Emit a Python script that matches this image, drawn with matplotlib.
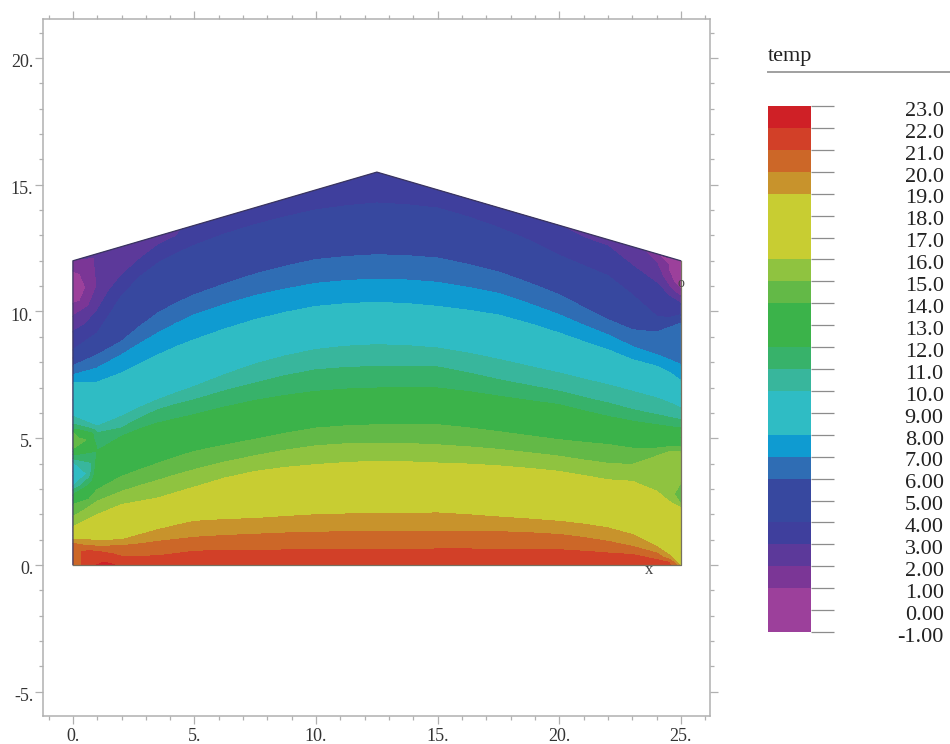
import matplotlib
matplotlib.use('Agg')
import matplotlib.pyplot as plt
import numpy as np
from matplotlib.patches import Polygon
from matplotlib.ticker import MultipleLocator
from matplotlib.transforms import ScaledTranslation
from matplotlib.tri import Triangulation

nan = np.nan

col_x = [0, 1, 2, 2.75, 3.5, 4.25, 5, 6.25, 7.5, 8.75, 10, 11.25, 12.5, 13.75, 15, 16.25, 17.5, 18.75, 20, 21, 22, 23, 24, 24.5, 25]

# height of each isotherm in those columns
iso_21 = [nan, .53, .33, .33, .35, .44, .53, .56, .57, .58, .59, .59, .59, .6, .62, .62, .6, .6, .59, .53, .46, .4, .2, .09, nan]
iso_20 = [.85, .72, .75, .82, .92, 1.0, 1.08, 1.15, 1.2, 1.25, 1.28, 1.3, 1.31, 1.31, 1.31, 1.31, 1.3, 1.26, 1.19, 1.07, .92, .72, .46, .23, nan]
iso_19 = [1.01, .96, .98, 1.18, 1.38, 1.55, 1.71, 1.78, 1.82, 1.9, 1.97, 2.0, 2.01, 2.03, 2.04, 1.97, 1.88, 1.8, 1.71, 1.6, 1.45, 1.19, .72, .4, nan]
iso_16 = [1.49, 1.97, 2.37, 2.5, 2.63, 2.85, 3.06, 3.42, 3.68, 3.84, 3.95, 4.03, 4.08, 4.06, 4.01, 3.97, 3.9, 3.8, 3.68, 3.52, 3.35, 3.29, 2.9, 2.5, 2.24]
iso_15 = [1.9, 2.5, 2.89, 3.12, 3.33, 3.55, 3.75, 4.05, 4.3, 4.52, 4.69, 4.77, 4.8, 4.78, 4.73, 4.65, 4.55, 4.42, 4.28, 4.13, 4.0, 3.95, 4.28, 4.45, 4.45]
iso_14 = [2.37, 2.96, 3.48, 3.75, 4.0, 4.25, 4.47, 4.72, 4.95, 5.19, 5.39, 5.48, 5.52, 5.54, 5.52, 5.4, 5.25, 5.09, 4.93, 4.83, 4.74, 4.6, 4.6, 4.65, 4.67]
iso_12 = [nan, 4.5, 5.06, 5.35, 5.59, 5.76, 5.92, 6.22, 6.48, 6.68, 6.84, 6.93, 6.97, 6.99, 6.97, 6.83, 6.65, 6.48, 6.31, 6.07, 5.85, 5.66, 5.52, 5.45, 5.39]
iso_11 = [nan, 5.2, 5.39, 5.78, 6.11, 6.33, 6.51, 6.86, 7.17, 7.46, 7.69, 7.78, 7.82, 7.83, 7.8, 7.57, 7.3, 7.07, 6.84, 6.6, 6.38, 6.12, 5.92, 5.82, 5.72]
iso_10 = [nan, 5.46, 5.85, 6.2, 6.51, 6.78, 7.03, 7.5, 7.92, 8.24, 8.49, 8.62, 8.68, 8.64, 8.55, 8.35, 8.1, 7.83, 7.56, 7.32, 7.1, 6.84, 6.58, 6.4, 6.18]
iso_8 = [7.17, 7.2, 7.56, 7.92, 8.28, 8.6, 8.88, 9.3, 9.67, 9.96, 10.19, 10.3, 10.35, 10.3, 10.19, 10.04, 9.85, 9.52, 9.14, 8.8, 8.48, 8.09, 7.83, 7.6, 7.27]
iso_7 = [7.49, 7.76, 8.28, 8.72, 9.14, 9.52, 9.86, 10.27, 10.62, 10.88, 11.1, 11.21, 11.27, 11.23, 11.14, 10.94, 10.7, 10.3, 9.86, 9.45, 9.07, 8.61, 8.29, 8.1, 7.89]
iso_6 = [7.85, 8.28, 8.81, 9.4, 9.93, 10.32, 10.65, 11.08, 11.47, 11.78, 12.04, 12.16, 12.23, 12.19, 12.1, 11.85, 11.55, 11.12, 10.65, 10.15, 9.67, 9.27, 9.18, 9.35, 9.53]
iso_4 = [8.48, 9.14, 10.6, 11.35, 11.9, 12.28, 12.6, 13.05, 13.42, 13.73, 14.0, 14.16, 14.27, 14.2, 14.07, 13.72, 13.3, 12.8, 12.2, 11.8, 11.4, 10.65, 9.8, 9.75, 9.86]
iso_3 = [9.2, 10.0, 11.4, 12.05, 12.6, 12.95, nan, nan, nan, nan, nan, nan, nan, nan, nan, nan, nan, nan, 13.2, 12.9, 12.56, 11.8, 11.1, 10.6, 10.3]
iso_2 = [9.8, 11.0, nan, nan, nan, nan, nan, nan, nan, nan, nan, nan, nan, nan, nan, nan, nan, nan, nan, nan, nan, nan, 11.9, 11.0, 10.6]

# temperature along the bottom edge
bottom_x = [0, .35, 1, 1.3, 1.7, 2, 3.5, 5, 7.5, 10, 12.5, 15, 17.5, 20, 22, 23, 24, 24.5, 24.75, 24.9, 25]
bottom_t = [20.4, 21, 22, 22.3, 22, 21.6, 21.6, 21.7, 21.7, 21.8, 21.8, 21.8, 21.8, 21.7, 21.5, 21.4, 21.2, 21.2, 20.4, 19.3, 18.5]

# temperature along the roof
roof_x = [0, 1, 2, 3.5, 5, 7.5, 10, 12.5, 15, 17.5, 20, 22, 23.4, 24, 25]
roof_y = [12, 12.28, 12.56, 12.98, 13.4, 14.1, 14.8, 15.5, 14.8, 14.1, 13.4, 12.84, 12.45, 12.28, 12]
roof_t = [1.9, 2.2, 2.6, 2.8, 3.1, 3.3, 3.4, 3.3, 3.3, 3.2, 3.0, 2.7, 2.0, 1.0, 0.5]

# local spots on the side walls and in the lower left corner
spot_x = [0, 0, 0, 0, 0, 0, 0, 0, 0, 0, 0, 0, 0, .3, .6, .75, .9, .3, .5, .75,
          .35, .35, .6, 1.3, 0, .55, 0, .2, 0, .3, .3, .3,
          25, 24.5, 25, 25, 24.7, 25, 25, 24.7, 24.7]
spot_y = [2.75, 2.95, 3.1, 3.6, 4.1, 4.2, 4.35, 4.6, 4.93, 5.2, 5.3, 5.55, 5.85, 3.6, 3.6, 3.6, 3.6, 4.93, 4.93, 4.93,
          .25, .5, .55, .1, 10.3, 10.95, 11.6, 10.97, 10.97, 10.4, 11.5, 10.97,
          10.85, 11.6, 2.4, 3.25, 2.8, 2.8, 3.8, 11.15, 11.8]
spot_t = [12, 11, 10, 8.8, 10, 11, 12, 14, 14.6, 14, 12, 11, 10, 9.3, 10, 11, 12, 14.4, 14, 12.5,
          21, 21, 21, 22, 1, 1, 1, 0.5, 0.5, 1, 1, 0.6,
          1, 1, 15, 15, 15, 14.6, 15.5, 1, 0.6]

# legend
levels = list(range(-1, 24))
level_labels = ['-1.00', '0.00', '1.00', '2.00', '3.00', '4.00', '5.00', '6.00', '7.00', '8.00', '9.00',
                '10.0', '11.0', '12.0', '13.0', '14.0', '15.0', '16.0', '17.0', '18.0', '19.0',
                '20.0', '21.0', '22.0', '23.0']
band_colors = ['#9c409b', '#9c409b', '#7b3696', '#5c399a', '#3f3f9d', '#37489f', '#37489f', '#2f6db4',
               '#0f9bd1', '#2fbcc4', '#2fbcc4', '#38b69c', '#37b26a', '#3bb34a', '#3bb34a', '#63b947',
               '#8fc340', '#c8cd32', '#c8cd32', '#c8cd32', '#c8932c', '#cc6728', '#d24028', '#cf2026']

outline_x = [0, 0, 12.5, 25, 25, 0]
outline_y = [0, 12, 15.5, 12, 0, 0]

# collect the read points
iso_heights = {21: iso_21, 20: iso_20, 19: iso_19, 16: iso_16, 15: iso_15, 14: iso_14, 12: iso_12,
               11: iso_11, 10: iso_10, 8: iso_8, 7: iso_7, 6: iso_6, 4: iso_4, 3: iso_3, 2: iso_2}
px, py, pt = [], [], []
for temp, heights in iso_heights.items():
    for cx, cy in zip(col_x, heights):
        if not np.isnan(cy):
            px.append(cx)
            py.append(cy)
            pt.append(temp)
px += bottom_x + roof_x + spot_x
py += [0] * len(bottom_x) + roof_y + spot_y
pt += bottom_t + roof_t + spot_t

W, H = 950, 744
plt.rcParams['font.family'] = ['Liberation Serif', 'DejaVu Serif']
fig = plt.figure(figsize=(W / 100, H / 100), dpi=100)

# main plot
ax = fig.add_axes([43 / W, 1 - 716 / H, (710 - 43) / W, (716 - 19) / H])
tri = Triangulation(px, py)
cs = ax.tricontourf(tri, pt, levels=levels, colors=band_colors)
cs.set_edgecolor('face')
cs.set_linewidth(0.4)
cs.set_clip_path(Polygon(np.column_stack([outline_x, outline_y]), transform=ax.transData))
ax.plot(outline_x[:4], outline_y[:4], color='#3a3560', lw=0.9, solid_capstyle='round')
ax.plot(outline_x[3:], outline_y[3:], color='#77705f', lw=0.9)

ax.text(25, 11.1, 'o', fontsize=10, color='#444444', ha='center', va='center')
ax.text(23.7, -0.18, 'x', fontsize=12, color='#444444', ha='center', va='center')

ax.set_xlim(-1.23, 26.2)
ax.set_ylim(-5.96, 21.54)
ax.set_xticks([0, 5, 10, 15, 20, 25], ['0.', '5.', '10.', '15.', '20.', '25.'])
ax.set_yticks([-5, 0, 5, 10, 15, 20], ['-5.', '0.', '5.', '10.', '15.', '20.'])
ax.xaxis.set_minor_locator(MultipleLocator(1))
ax.yaxis.set_minor_locator(MultipleLocator(1))
ax.tick_params(which='major', direction='out', length=6, width=0.9, color='#b0b0b0',
               top=True, right=True, labelsize=13, labelcolor='#333333', pad=1)
ax.tick_params(axis='x', which='major', pad=2.5)
ax.tick_params(which='minor', direction='out', length=3, width=0.9, color='#b0b0b0', top=True, right=True)
down = ScaledTranslation(0, -2 / 72, fig.dpi_scale_trans)
for label in ax.get_yticklabels():
    label.set_transform(label.get_transform() + down)
for spine in ax.spines.values():
    spine.set_color('#b0b0b0')
    spine.set_linewidth(1.1)

# legend bar
cax = fig.add_axes([768 / W, 1 - 632 / H, (811 - 768) / W, (632 - 106) / H])
cax.pcolormesh([0, 1], levels, np.arange(len(band_colors)).reshape(-1, 1),
               cmap=matplotlib.colors.ListedColormap(band_colors))
cax.set_xlim(0, 1)
cax.set_ylim(-1, 23)
cax.set_xticks([])
cax.yaxis.tick_right()
cax.set_yticks(levels, level_labels)
cax.tick_params(axis='y', length=16.5, width=0.9, color='#8c8c8c', labelsize=16, labelcolor='#222222', pad=79)
for label in cax.get_yticklabels():
    label.set_ha('right')
    label.set_transform(label.get_transform() + down)
for spine in cax.spines.values():
    spine.set_visible(False)

fig.text(768 / W, 1 - 57 / H, 'temp', fontsize=16, color='#222222', ha='left', va='center')
fig.add_artist(plt.Line2D([768 / W, 1], [1 - 72 / H, 1 - 72 / H], color='#a0a0a0', lw=1.4))

fig.savefig('out.png', dpi=100)
